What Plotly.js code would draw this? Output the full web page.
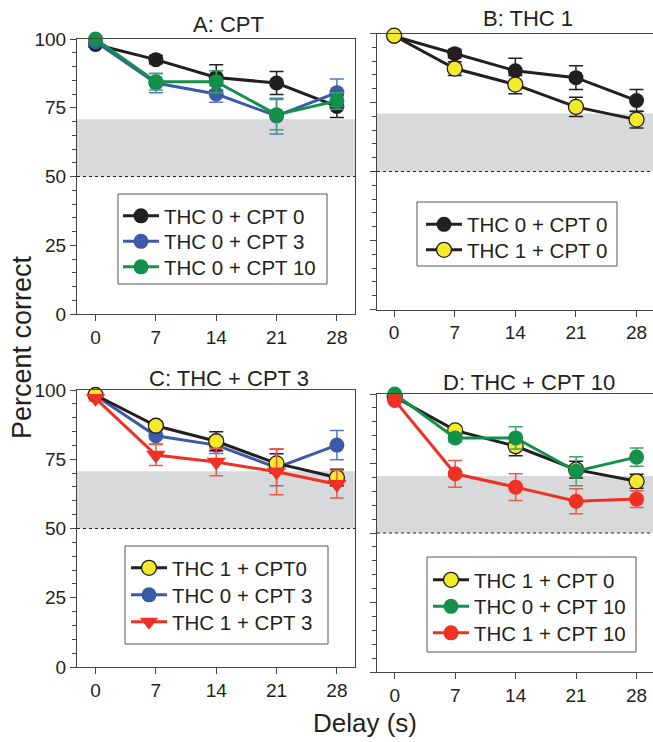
<!DOCTYPE html>
<html>
<head>
<meta charset="utf-8">
<script src="https://cdn.plot.ly/plotly-3.0.1.min.js"></script>
<style>html,body{margin:0;padding:0;background:#fff;}#chart{width:653px;height:742px;}</style>
</head>
<body>
<div id="chart"></div>
<script>
// ---------- data ----------
var delays = [0, 7, 14, 21, 28];
var xTickLabels = ['0', '7', '14', '21', '28'];
var yTickVals = [0, 25, 50, 75, 100];

var panelTitles = ['A: CPT', 'B: THC 1', 'C: THC + CPT 3', 'D: THC + CPT 10'];
var chanceLevel = [50, 50, 50, 50];
var bandTop = [70.8, 71.0, 70.7, 70.5];

// Panel A
var A_thc0cpt0 = [98.0, 92.5, 86.0, 84.0, 75.5];
var A_thc0cpt0_err = [1.0, 1.5, 4.6, 4.2, 4.0];
var A_thc0cpt3 = [99.0, 84.0, 80.0, 72.0, 80.5];
var A_thc0cpt3_err = [1.0, 3.5, 3.0, 6.5, 5.0];
var A_thc0cpt10 = [100.0, 84.5, 84.5, 72.5, 77.5];
var A_thc0cpt10_err = [0.5, 3.0, 4.0, 5.5, 3.0];

// Panel B
var B_thc0cpt0 = [99.0, 92.7, 86.5, 84.0, 75.7];
var B_thc0cpt0_err = [0.5, 1.5, 4.5, 4.3, 4.0];
var B_thc1cpt0 = [99.2, 87.3, 81.5, 73.4, 68.8];
var B_thc1cpt0_err = [0.5, 2.5, 3.3, 3.5, 3.0];

// Panel C
var C_thc1cpt0 = [98.2, 87.1, 81.5, 73.5, 68.4];
var C_thc1cpt0_err = [0.5, 1.5, 3.4, 3.5, 3.0];
var C_thc0cpt3 = [98.0, 83.5, 80.1, 72.0, 80.1];
var C_thc0cpt3_err = [1.0, 3.0, 3.0, 6.6, 5.3];
var C_thc1cpt3 = [97.0, 76.5, 74.0, 70.5, 66.0];
var C_thc1cpt3_err = [1.0, 3.8, 5.0, 8.3, 5.0];

// Panel D
var D_thc1cpt0 = [99.0, 86.9, 81.2, 72.8, 68.6];
var D_thc1cpt0_err = [0.5, 1.5, 3.4, 3.0, 2.5];
var D_thc0cpt10 = [100.0, 84.2, 84.2, 72.2, 77.3];
var D_thc0cpt10_err = [0.5, 1.5, 4.0, 5.2, 3.3];
var D_thc1cpt10 = [97.7, 71.3, 66.5, 61.4, 62.2];
var D_thc1cpt10_err = [0.5, 4.8, 4.8, 4.5, 3.0];

// ---------- styling / layout ----------
var W = 653, H = 742;
function fx(p) { return p / W; }
function fy(p) { return 1 - p / H; }

var FONT = '"Liberation Sans", Arial, Helvetica, sans-serif';
var INK = '#231f20';
var COL = {
  black: '#231f20', blue: '#3b5ba9', green: '#13904a', yellow: '#f4ea2c', red: '#ee3124'
};
var ERRCOL = {
  black: '#231f20', blue: '#5a77bd', green: '#3aa56a', yellow: '#231f20', red: '#f0584c'
};

function series(name, xa, ya, leg, y, err, colorKey, opts) {
  opts = opts || {};
  var isYellow = colorKey === 'yellow';
  return {
    type: 'scatter', mode: 'lines+markers', name: name,
    x: delays, y: y, xaxis: xa, yaxis: ya, legend: leg, showlegend: true,
    cliponaxis: false,
    line: { color: isYellow ? COL.black : COL[colorKey], width: 3 },
    marker: {
      color: COL[colorKey], size: opts.size || 15,
      symbol: opts.symbol || 'circle',
      line: { color: INK, width: isYellow ? 1.3 : 0 }
    },
    error_y: { type: 'data', array: err, visible: true, color: ERRCOL[colorKey], thickness: 1.5, width: 7 }
  };
}

var data = [
  series('THC 0 + CPT 0', 'x', 'y', 'legend', A_thc0cpt0, A_thc0cpt0_err, 'black'),
  series('THC 0 + CPT 3', 'x', 'y', 'legend2', A_thc0cpt3, A_thc0cpt3_err, 'blue'),
  series('THC 0 + CPT 10', 'x', 'y', 'legend3', A_thc0cpt10, A_thc0cpt10_err, 'green'),

  series('THC 0 + CPT 0', 'x2', 'y2', 'legend4', B_thc0cpt0, B_thc0cpt0_err, 'black'),
  series('THC 1 + CPT 0', 'x2', 'y2', 'legend5', B_thc1cpt0, B_thc1cpt0_err, 'yellow'),

  series('THC 0 + CPT 3', 'x3', 'y3', 'legend7', C_thc0cpt3, C_thc0cpt3_err, 'blue'),
  series('THC 1 + CPT0', 'x3', 'y3', 'legend6', C_thc1cpt0, C_thc1cpt0_err, 'yellow'),
  series('THC 1 + CPT 3', 'x3', 'y3', 'legend8', C_thc1cpt3, C_thc1cpt3_err, 'red', { symbol: 'triangle-down', size: 17 }),

  series('THC 1 + CPT 0', 'x4', 'y4', 'legend9', D_thc1cpt0, D_thc1cpt0_err, 'yellow'),
  series('THC 0 + CPT 10', 'x4', 'y4', 'legend10', D_thc0cpt10, D_thc0cpt10_err, 'green'),
  series('THC 1 + CPT 10', 'x4', 'y4', 'legend11', D_thc1cpt10, D_thc1cpt10_err, 'red')
];

var panels = [
  { xd: [77, 355], yd: [39, 314], xr: [-2.15, 30.1], labels: true, ax: '', tx: 229, ty: 24 },
  { xd: [377, 653], yd: [33.5, 309.5], xr: [-1.98, 29.9], labels: false, ax: '2', tx: 528, ty: 19 },
  { xd: [77, 355], yd: [390, 667], xr: [-2.15, 30.1], labels: true, ax: '3', tx: 229, ty: 378 },
  { xd: [377, 653], yd: [394, 672], xr: [-2.05, 29.9], labels: false, ax: '4', tx: 529, ty: 382 }
];

var layout = {
  width: W, height: H,
  margin: { l: 0, r: 0, t: 0, b: 0 },
  paper_bgcolor: '#fff', plot_bgcolor: '#fff',
  showlegend: true,
  font: { family: FONT, color: INK, size: 19 },
  shapes: [], annotations: []
};

panels.forEach(function (p, i) {
  var xa = 'xaxis' + p.ax, ya = 'yaxis' + p.ax;
  var xid = 'x' + p.ax, yid = 'y' + p.ax;
  layout[xa] = {
    domain: [fx(p.xd[0]), fx(p.xd[1])], range: p.xr, anchor: yid,
    tickmode: 'array', tickvals: delays, ticktext: xTickLabels,
    ticks: 'outside', ticklen: 6, tickwidth: 1, tickcolor: '#444',
    showline: true, linecolor: '#444', linewidth: 1, mirror: true,
    showgrid: false, zeroline: false, fixedrange: true,
    tickfont: { family: FONT, size: 19, color: INK }
  };
  layout[ya] = {
    domain: [fy(p.yd[1]), fy(p.yd[0])], range: [0, 100], anchor: xid,
    tickmode: 'array', tickvals: yTickVals,
    ticks: 'outside', ticklen: 6, tickwidth: 1, tickcolor: '#444',
    minor: { tickmode: 'linear', tick0: 0, dtick: 5, ticks: 'outside', ticklen: 4, tickcolor: '#444', tickwidth: 1, showgrid: false },
    showline: true, linecolor: '#444', linewidth: 1, mirror: p.labels,
    showticklabels: p.labels,
    showgrid: false, zeroline: false, fixedrange: true,
    tickfont: { family: FONT, size: 19, color: INK }
  };
  layout.shapes.push({
    type: 'rect', layer: 'below', xref: xid + ' domain', yref: yid,
    x0: 0, x1: 1, y0: chanceLevel[i], y1: bandTop[i],
    fillcolor: '#d8d9da', line: { width: 0 }
  });
  layout.shapes.push({
    type: 'line', layer: 'below', xref: xid + ' domain', yref: yid,
    x0: 0, x1: 1, y0: chanceLevel[i], y1: chanceLevel[i],
    line: { color: INK, width: 1, dash: 'dot' }
  });
  layout.annotations.push({
    text: panelTitles[i], xref: 'paper', yref: 'paper',
    x: fx(p.tx), y: fy(p.ty), xanchor: 'center', yanchor: 'middle',
    showarrow: false, font: { family: FONT, size: 22, color: INK }
  });
});

// legend boxes (drawn as shapes); one single-entry legend per row
var legBoxes = [
  { x0: 118, x1: 327, y0: 194, y1: 284, sym: 138, rows: [215, 240.5, 266] },
  { x0: 417, x1: 617, y0: 202, y1: 266, sym: 441, rows: [223.5, 249] },
  { x0: 125, x1: 328, y0: 546, y1: 644, sym: 146, rows: [567, 594, 621] },
  { x0: 427, x1: 636, y0: 557, y1: 652, sym: 448, rows: [579, 605.5, 632] }
];
var legendIds = [
  ['legend', 'legend2', 'legend3'],
  ['legend4', 'legend5'],
  ['legend6', 'legend7', 'legend8'],
  ['legend9', 'legend10', 'legend11']
];
legBoxes.forEach(function (b, i) {
  layout.shapes.push({
    type: 'rect', xref: 'paper', yref: 'paper', layer: 'above',
    x0: fx(b.x0), x1: fx(b.x1), y0: fy(b.y1), y1: fy(b.y0),
    line: { color: '#555', width: 1 }, fillcolor: 'rgba(0,0,0,0)'
  });
  legendIds[i].forEach(function (id, k) {
    layout[id] = {
      visible: true,
      x: fx(b.sym - 20), y: fy(b.rows[k] - 19), xanchor: 'left', yanchor: 'top',
      bgcolor: 'rgba(255,255,255,0)', borderwidth: 0, itemwidth: 36,
      font: { family: FONT, size: 20.5, color: INK },
      itemclick: false, itemdoubleclick: false
    };
  });
});

layout.annotations.push({
  text: 'Percent correct', xref: 'paper', yref: 'paper',
  x: fx(22), y: fy(347), xanchor: 'center', yanchor: 'middle', textangle: -90,
  showarrow: false, font: { family: FONT, size: 27, color: INK }
});
layout.annotations.push({
  text: 'Delay (s)', xref: 'paper', yref: 'paper',
  x: fx(365), y: fy(723), xanchor: 'center', yanchor: 'middle',
  showarrow: false, font: { family: FONT, size: 26, color: INK }
});

Plotly.newPlot('chart', data, layout, { displayModeBar: false, staticPlot: true });
</script>
</body>
</html>
